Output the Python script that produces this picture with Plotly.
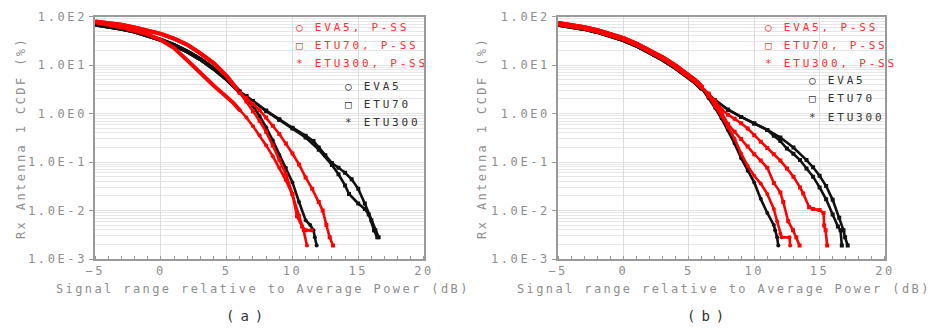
import plotly.graph_objects as go

W, H = 940, 335

# ---------------- data (values in %) ----------------
BODY_X = [-5, -4, -3, -2, -1, 0, 1, 2, 3, 4, 5, 5.5, 6]

# panel (a)
a_red_body = [79, 74, 68, 60, 52, 44, 35, 26.3, 17.4, 11, 5.9, 4.0, 2.7]
a_red_lo_body = [76, 69, 60, 51, 43, 33, 22.4, 12.6, 6.8, 3.8, 2.2, 1.66, 1.17]
a_blk_body = [69, 63, 56, 49, 41, 33, 25.7, 19, 13.2, 8.5, 5.1, 3.8, 2.8]

a_eva5_pss_tx = [6.5, 7, 7.5, 8, 8.5, 9, 9.5, 10, 10.5, 10.85, 11.1]
a_eva5_pss_ty = [0.83, 0.55, 0.355, 0.22, 0.132, 0.076, 0.042, 0.021, 0.0079, 0.0039, 0.0019]
a_etu70_pss_tx = [6.5, 7, 7.5, 8, 8.5, 9, 9.5, 10, 10.35, 10.73, 11.0, 11.45]
a_etu70_pss_ty = [1.78, 1.12, 0.71, 0.42, 0.22, 0.112, 0.056, 0.022, 0.0076, 0.0047, 0.0039, 0.0039]
a_etu300_pss_tx = [6.5, 7, 7.5, 8, 8.5, 9, 9.5, 10, 10.5, 11, 11.5, 12, 12.3, 12.58, 12.83, 13.08]
a_etu300_pss_ty = [2.1, 1.58, 1.17, 0.83, 0.56, 0.38, 0.24, 0.15, 0.089, 0.048, 0.028, 0.015, 0.010, 0.005, 0.0028, 0.0019]
a_eva5_tx = [6.5, 7, 7.5, 8, 8.5, 9, 9.5, 10, 10.5, 11, 11.35, 11.6, 11.7, 11.84]
a_eva5_ty = [2.0, 1.41, 0.89, 0.52, 0.28, 0.14, 0.076, 0.038, 0.015, 0.0063, 0.005, 0.0039, 0.0028, 0.0019]
a_etu70_tx = [6.5, 7, 8, 9, 10, 11, 11.6, 12, 12.5, 13, 13.5, 14, 14.5, 15, 15.5, 16, 16.3, 16.55]
a_etu70_ty = [2.3, 1.82, 1.15, 0.76, 0.51, 0.35, 0.27, 0.20, 0.138, 0.095, 0.076, 0.060, 0.044, 0.028, 0.014, 0.0063, 0.0039, 0.0028]
a_etu300_tx = [6.5, 7, 8, 9, 10, 11, 12, 13, 13.5, 14, 14.3, 15, 15.5, 15.8, 16.2, 16.45]
a_etu300_ty = [2.3, 1.8, 1.12, 0.74, 0.49, 0.32, 0.18, 0.087, 0.056, 0.033, 0.022, 0.014, 0.0107, 0.0083, 0.0039, 0.0028]

# panel (b)
b_red_body = [72, 66, 59, 51, 43, 35, 27, 20, 14, 9.4, 6.1, 4.7, 3.45]
b_blk_body = [69.5, 63.5, 57, 49.3, 41.3, 33.5, 25.8, 19.1, 13.3, 8.9, 5.8, 4.5, 3.3]

b_eva5_pss_tx = [6.5, 7, 7.5, 8, 8.5, 9, 9.5, 10, 10.5, 11, 11.5, 11.75, 12.0, 12.1, 12.7, 12.75]
b_eva5_pss_ty = [2.3, 1.41, 0.89, 0.52, 0.30, 0.15, 0.083, 0.052, 0.036, 0.022, 0.0107, 0.006, 0.0033, 0.0028, 0.0028, 0.0019]
b_etu70_pss_tx = [6.5, 7, 7.5, 8, 8.5, 9, 9.5, 10, 10.5, 11, 11.5, 12, 12.22, 12.6, 12.97, 13.22, 13.47]
b_etu70_pss_ty = [2.5, 1.66, 1.07, 0.60, 0.42, 0.30, 0.21, 0.145, 0.107, 0.076, 0.037, 0.0234, 0.015, 0.006, 0.0039, 0.0028, 0.0019]
b_etu300_pss_tx = [6.5, 7, 7.5, 8, 8.5, 9, 9.5, 10, 10.5, 11, 11.5, 12, 12.5, 13, 13.5, 13.75, 14.2, 14.5, 15.0, 15.3, 15.35, 15.46, 15.58]
b_etu300_pss_ty = [2.6, 1.86, 1.23, 0.95, 0.78, 0.63, 0.49, 0.355, 0.263, 0.195, 0.145, 0.107, 0.074, 0.050, 0.030, 0.0224, 0.0117, 0.0107, 0.0102, 0.0089, 0.0049, 0.0039, 0.0019]
b_eva5_tx = [6.5, 7, 7.5, 8, 8.5, 9, 9.5, 10, 10.5, 11, 11.5, 11.6, 11.75, 11.84]
b_eva5_ty = [2.1, 1.32, 0.79, 0.45, 0.24, 0.12, 0.066, 0.038, 0.0174, 0.0089, 0.005, 0.0039, 0.0028, 0.0019]
b_etu70_tx = [6.5, 7, 8, 9, 10, 11, 11.5, 12, 12.5, 13, 13.5, 14, 14.5, 15, 15.5, 16, 16.4, 16.6, 16.7]
b_etu70_ty = [2.4, 1.9, 1.2, 0.85, 0.62, 0.46, 0.35, 0.27, 0.19, 0.148, 0.11, 0.074, 0.050, 0.030, 0.017, 0.0083, 0.0047, 0.0039, 0.0019]
b_etu300_tx = [6.5, 7, 8, 9, 10, 11, 12, 13, 14, 14.5, 15, 15.5, 16, 16.5, 16.83, 16.95, 17.15]
b_etu300_ty = [2.4, 1.9, 1.2, 0.85, 0.62, 0.46, 0.32, 0.20, 0.11, 0.078, 0.052, 0.032, 0.0166, 0.0071, 0.0039, 0.0028, 0.0019]

X_TICKS = [-5, 0, 5, 10, 15, 20]
X_TICKTEXT = ["\u22125", "0", "5", "10", "15", "20"]
Y_TICKS = [1e-3, 1e-2, 1e-1, 1e0, 1e1, 1e2]
Y_TICKTEXT = ["1.0E-3", "1.0E-2", "1.0E-1", "1.0E0", "1.0E1", "1.0E2"]

RED = "#ff0000"
BLK = "#111111"
GRAY_TXT = "#8e8e8e"
MONO = "DejaVu Sans Mono"


def sp(t, s=2.2):
    return '<span style="letter-spacing:%spx">%s</span>' % (s, t)


fig = go.Figure()

# (body y, tail x, tail y, colour, marker symbol)
panels = [
    ("x", "y", [
        (a_blk_body, a_eva5_tx, a_eva5_ty, BLK, "circle"),
        (a_blk_body, a_etu70_tx, a_etu70_ty, BLK, "square"),
        (a_blk_body, a_etu300_tx, a_etu300_ty, BLK, "square"),
        (a_red_lo_body, a_eva5_pss_tx, a_eva5_pss_ty, RED, "circle"),
        (a_red_body, a_etu70_pss_tx, a_etu70_pss_ty, RED, "square"),
        (a_red_body, a_etu300_pss_tx, a_etu300_pss_ty, RED, "square"),
    ], 4),
    ("x2", "y2", [
        (b_blk_body, b_eva5_tx, b_eva5_ty, BLK, "circle"),
        (b_blk_body, b_etu70_tx, b_etu70_ty, BLK, "square"),
        (b_blk_body, b_etu300_tx, b_etu300_ty, BLK, "square"),
        (b_red_body, b_eva5_pss_tx, b_eva5_pss_ty, RED, "circle"),
        (b_red_body, b_etu70_pss_tx, b_etu70_pss_ty, RED, "square"),
        (b_red_body, b_etu300_pss_tx, b_etu300_pss_ty, RED, "square"),
    ], 5),
]

for xa, ya, series, body_w in panels:
    # thick bodies (black first, red on top)
    for by, tx, ty, col, sym in series:
        fig.add_trace(go.Scatter(
            x=BODY_X, y=by, xaxis=xa, yaxis=ya, mode="lines",
            line=dict(color=col, width=body_w),
            showlegend=False, hoverinfo="skip"))
    # thinner dotted tails
    for by, tx, ty, col, sym in series:
        fig.add_trace(go.Scatter(
            x=BODY_X[-1:] + tx, y=by[-1:] + ty, xaxis=xa, yaxis=ya, mode="lines+markers",
            line=dict(color=col, width=2.6),
            marker=dict(color=col, size=4, symbol=sym),
            showlegend=False, hoverinfo="skip"))

minor_vals = [m * 10 ** e for e in range(-3, 2) for m in range(2, 10)]

x_common = dict(
    range=[-5, 20], tickmode="array", tickvals=X_TICKS,
    ticktext=[sp(t, 2.6) for t in X_TICKTEXT],
    tickfont=dict(family=MONO, size=12, color=GRAY_TXT),
    showgrid=True, gridcolor="#dcdcdc", gridwidth=1,
    zeroline=False, showline=True, linecolor="#9a9a9a", linewidth=1.5,
    mirror=True, ticks="",
    minor=dict(dtick=1, ticks="inside", ticklen=3, tickcolor="#9a9a9a", showgrid=False),
)
y_common = dict(
    type="log", range=[-3, 2], tickmode="array", tickvals=Y_TICKS,
    ticktext=[sp(t, 2.6) for t in Y_TICKTEXT],
    tickfont=dict(family=MONO, size=12, color=GRAY_TXT),
    showgrid=True, gridcolor="#e2e2e2", gridwidth=1,
    zeroline=False, showline=True, linecolor="#9a9a9a", linewidth=1.5,
    mirror=True, ticks="outside", ticklen=4, tickcolor="#9a9a9a",
    minor=dict(tickmode="array", tickvals=minor_vals, showgrid=True,
               gridcolor="#e6e6e6", gridwidth=1, ticks=""),
    domain=[1 - 263 / H, 1 - 10 / H],
)

fig.update_layout(
    width=W, height=H, margin=dict(l=0, r=0, t=0, b=0),
    paper_bgcolor="white", plot_bgcolor="white",
    xaxis=dict(x_common, domain=[87 / W, 423 / W], anchor="y"),
    yaxis=dict(y_common, anchor="x"),
    xaxis2=dict(x_common, domain=[560 / W, 894 / W], anchor="y2"),
    yaxis2=dict(y_common, anchor="x2"),
)


def ann(text, px, py, color=GRAY_TXT, size=12, family=MONO, xanchor="center", angle=0, spacing=2.2):
    fig.add_annotation(text=sp(text, spacing), x=px / W, y=1 - py / H, xref="paper", yref="paper",
                       xanchor=xanchor, yanchor="middle", showarrow=False, textangle=angle,
                       font=dict(family=family, size=size, color=color))


XT = "Signal range relative to Average Power (dB)"
YT = "Rx Antenna 1 CCDF (%)"
ann(XT, 258, 294, spacing=2.4)
ann(XT, 730, 294, spacing=2.4)
ann(YT, 12, 137, angle=-90, spacing=2.4)
ann(YT, 483, 137, angle=-90, spacing=2.4)
ann("(a)", 243, 322, color="#333333", size=14, spacing=6)
ann("(b)", 714, 322, color="#333333", size=14, spacing=6)

LRED = "#ff3030"
LBLK = "#333333"
# legend (a)
ann("\u25cb EVA5, P-SS", 290, 21, color=LRED, size=11, xanchor="left", spacing=2.8)
ann("\u25a1 ETU70, P-SS", 290, 40, color=LRED, size=11, xanchor="left", spacing=2.8)
ann("* ETU300, P-SS", 290, 59, color=LRED, size=11, xanchor="left", spacing=2.8)
ann("\u25cb EVA5", 340, 83, color=LBLK, size=11, xanchor="left", spacing=2.8)
ann("\u25a1 ETU70", 340, 102, color=LBLK, size=11, xanchor="left", spacing=2.8)
ann("* ETU300", 340, 121, color=LBLK, size=11, xanchor="left", spacing=2.8)
# legend (b)
ann("\u25cb EVA5, P-SS", 769, 21, color=LRED, size=11, xanchor="left", spacing=2.8)
ann("\u25a1 ETU70, P-SS", 769, 40, color=LRED, size=11, xanchor="left", spacing=2.8)
ann("* ETU300, P-SS", 769, 59, color=LRED, size=11, xanchor="left", spacing=2.8)
ann("\u25cb EVA5", 814, 77, color=LBLK, size=11, xanchor="left", spacing=2.8)
ann("\u25a1 ETU70", 814, 96, color=LBLK, size=11, xanchor="left", spacing=2.8)
ann("* ETU300", 814, 115, color=LBLK, size=11, xanchor="left", spacing=2.8)

fig.write_html("out.html")
